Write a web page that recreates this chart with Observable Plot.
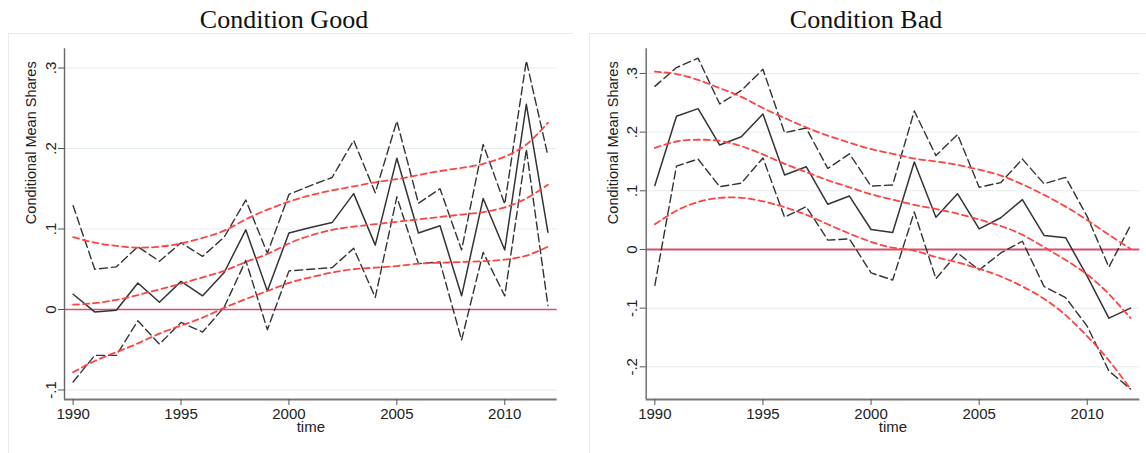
<!DOCTYPE html>
<html>
<head>
<meta charset="utf-8">
<script src="https://cdn.jsdelivr.net/npm/d3@7"></script>
<script src="https://cdn.jsdelivr.net/npm/@observablehq/plot@0.6"></script>
<style>
  html, body { margin: 0; padding: 0; background: #fff; }
  #root { position: relative; width: 1146px; height: 453px; background: #fff; overflow: hidden; }
  .title { position: absolute; top: 3px; height: 33px; line-height: 33px; text-align: center;
           font-family: "Liberation Serif", "DejaVu Serif", serif; font-size: 26px; color: #111; }
  .frame { position: absolute; top: 33px; height: 430px; border-top: 1px solid #e4ecef; border-left: 1px solid #e4ecef; box-sizing: border-box; }
  .panel { position: absolute; top: 33px; }
</style>
</head>
<body>
<div id="root">
  <div class="frame" style="left:8px;width:565px"></div>
  <div class="frame" style="left:589px;width:557px"></div>
  <div class="title" style="left:0px;width:568px">Condition Good</div>
  <div class="title" style="left:586px;width:560px">Condition Bad</div>
  <div class="panel" id="good" style="left:0px"></div>
  <div class="panel" id="bad" style="left:573px"></div>
</div>
<script>
const years = [1990,1991,1992,1993,1994,1995,1996,1997,1998,1999,2000,2001,2002,2003,2004,2005,2006,2007,2008,2009,2010,2011,2012];
const xTicks = [1990, 1995, 2000, 2005, 2010];
const xTickLabels = ["1990", "1995", "2000", "2005", "2010"];

// Condition Good
const goodMean  = [0.019,-0.003,-0.001,0.033,0.009,0.035,0.017,0.046,0.099,0.023,0.095,0.102,0.108,0.144,0.080,0.188,0.095,0.104,0.017,0.138,0.074,0.255,0.096];
const goodUpper = [0.129,0.050,0.053,0.078,0.060,0.083,0.066,0.090,0.136,0.070,0.143,0.154,0.164,0.210,0.145,0.234,0.132,0.150,0.074,0.205,0.131,0.309,0.191];
const goodLower = [-0.090,-0.057,-0.057,-0.014,-0.043,-0.016,-0.028,0.003,0.061,-0.025,0.048,0.050,0.052,0.076,0.015,0.140,0.057,0.059,-0.038,0.071,0.017,0.199,0.005];
const goodFitUpper = [0.090,0.083,0.079,0.077,0.078,0.082,0.089,0.098,0.112,0.124,0.134,0.142,0.148,0.153,0.158,0.162,0.167,0.172,0.176,0.181,0.190,0.205,0.232];
const goodFitMid   = [0.006,0.008,0.012,0.018,0.025,0.032,0.040,0.048,0.059,0.069,0.082,0.092,0.099,0.103,0.106,0.109,0.112,0.115,0.118,0.121,0.127,0.138,0.155];
const goodFitLower = [-0.078,-0.064,-0.053,-0.042,-0.030,-0.020,-0.010,0.002,0.013,0.023,0.033,0.040,0.046,0.050,0.052,0.054,0.057,0.058,0.059,0.060,0.062,0.067,0.078];
const goodYTicks = [-0.1, 0, 0.1, 0.2, 0.3];
const goodYTickLabels = ["-.1", "0", ".1", ".2", ".3"];

// Condition Bad
const badMean  = [0.109,0.227,0.240,0.178,0.192,0.231,0.127,0.141,0.077,0.091,0.034,0.029,0.149,0.055,0.095,0.035,0.054,0.085,0.024,0.020,-0.046,-0.117,-0.100];
const badUpper = [0.278,0.310,0.326,0.248,0.271,0.307,0.199,0.207,0.138,0.163,0.108,0.110,0.236,0.160,0.196,0.106,0.114,0.154,0.112,0.123,0.056,-0.030,0.041];
const badLower = [-0.061,0.142,0.154,0.107,0.113,0.156,0.055,0.073,0.016,0.018,-0.040,-0.052,0.064,-0.050,-0.006,-0.035,-0.006,0.014,-0.063,-0.082,-0.131,-0.207,-0.238];
const badFitUpper = [0.303,0.299,0.289,0.275,0.260,0.241,0.224,0.208,0.194,0.182,0.171,0.163,0.155,0.150,0.144,0.136,0.126,0.111,0.093,0.073,0.050,0.025,0.001];
const badFitMid   = [0.173,0.184,0.187,0.185,0.176,0.162,0.146,0.132,0.118,0.106,0.094,0.085,0.076,0.069,0.061,0.051,0.040,0.025,0.004,-0.018,-0.043,-0.076,-0.117];
const badFitLower = [0.043,0.066,0.081,0.088,0.088,0.082,0.072,0.059,0.043,0.027,0.013,0.003,-0.002,-0.013,-0.022,-0.033,-0.046,-0.063,-0.084,-0.112,-0.148,-0.189,-0.238];
const badYTicks = [-0.2, -0.1, 0, 0.1, 0.2, 0.3];
const badYTickLabels = ["-.2", "-.1", "0", ".1", ".2", ".3"];

const xDomain = [1989.6, 2012.43];

function panel(cfg) {
  const rows = years.map((year, i) => ({
    year,
    mean: cfg.mean[i], upper: cfg.upper[i], lower: cfg.lower[i],
    fu: cfg.fitU[i], fm: cfg.fitM[i], fl: cfg.fitL[i]
  }));
  const black = "#333";
  const red = "#ff4242";
  return Plot.plot({
    width: 573,
    height: 420,
    marginLeft: cfg.marginLeft,
    marginRight: cfg.marginRight,
    marginTop: 15.3,
    marginBottom: 54,
    x: {domain: xDomain},
    y: {domain: cfg.yDomain},
    style: {fontFamily: "'Liberation Sans', Arial, sans-serif", fontSize: "15px", color: "#222", background: "transparent", overflow: "visible"},
    marks: [
      Plot.gridY(cfg.yTicks, {stroke: "#e3ecef", strokeOpacity: 1, strokeWidth: 1}),
      Plot.ruleY([0], {stroke: "#d9506f", strokeWidth: cfg.zeroWidth}),
      Plot.line(rows, {x: "year", y: "upper", stroke: black, strokeWidth: 1.4, strokeDasharray: "8,4"}),
      Plot.line(rows, {x: "year", y: "lower", stroke: black, strokeWidth: 1.4, strokeDasharray: "8,4"}),
      Plot.line(rows, {x: "year", y: "mean", stroke: black, strokeWidth: 1.5}),
      Plot.line(rows, {x: "year", y: "fu", stroke: red, strokeWidth: 1.8, strokeDasharray: "6,4", curve: "natural"}),
      Plot.line(rows, {x: "year", y: "fm", stroke: red, strokeWidth: 1.8, strokeDasharray: "6,4", curve: "natural"}),
      Plot.line(rows, {x: "year", y: "fl", stroke: red, strokeWidth: 1.8, strokeDasharray: "6,4", curve: "natural"}),
      Plot.ruleX([xDomain[0]], {stroke: "#666", strokeWidth: 1.4}),
      Plot.ruleY([cfg.yDomain[0]], {stroke: "#777", strokeWidth: 1.8}),
      Plot.axisX(xTicks, {tickFormat: d => xTickLabels[xTicks.indexOf(d)], tickSize: 6, label: null, stroke: "#555", fill: "#222", fontSize: 15}),
      Plot.axisY(cfg.yTicks, {tickFormat: d => cfg.yLabels[cfg.yTicks.indexOf(d)], tickSize: 6, tickRotate: -90, label: null, stroke: "#555", fill: "#222", fontSize: 15}),
      Plot.text(["time"], {text: d => d, frameAnchor: "bottom", dy: 32.5, fill: "#222", fontSize: 15}),
      Plot.text(["Conditional Mean Shares"], {text: d => d, frameAnchor: "left", dx: -33, rotate: -90, fill: "#222", fontSize: 14.5})
    ]
  });
}

document.getElementById("good").appendChild(panel({
  mean: goodMean, upper: goodUpper, lower: goodLower,
  fitU: goodFitUpper, fitM: goodFitMid, fitL: goodFitLower,
  yDomain: [-0.1118, 0.3239], yTicks: goodYTicks, yLabels: goodYTickLabels,
  marginLeft: 64, marginRight: 16.3, zeroWidth: 1.4
}));
document.getElementById("bad").appendChild(panel({
  mean: badMean, upper: badUpper, lower: badLower,
  fitU: badFitUpper, fitM: badFitMid, fitL: badFitLower,
  yDomain: [-0.2557, 0.342], yTicks: badYTicks, yLabels: badYTickLabels,
  marginLeft: 72.7, marginRight: 6.7, zeroWidth: 2
}));
</script>
</body>
</html>
